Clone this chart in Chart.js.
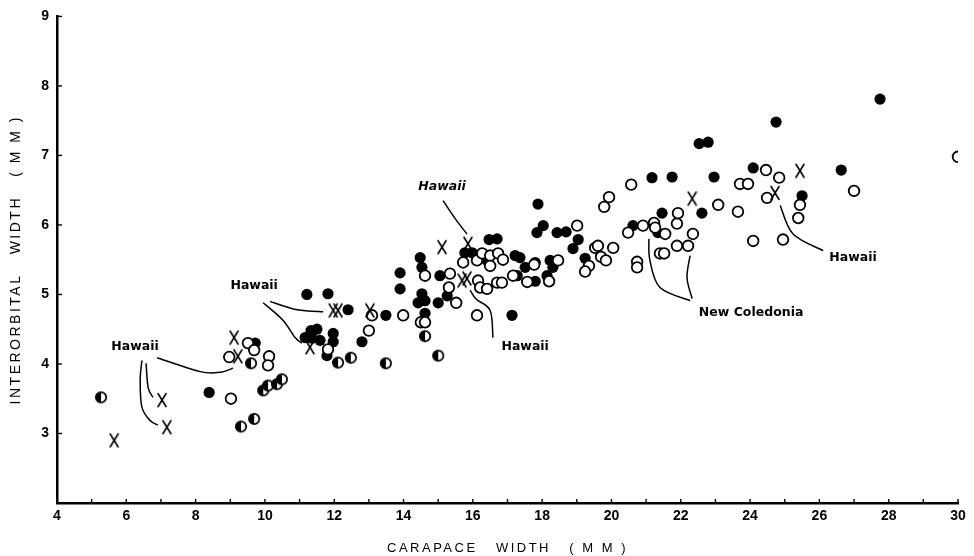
<!DOCTYPE html>
<html>
<head>
<meta charset="utf-8">
<title>Interorbital width vs carapace width</title>
<script src="https://cdn.jsdelivr.net/npm/chart.js@4.4.1/dist/chart.umd.min.js"></script>
<style>
html,body{margin:0;padding:0;background:#fff;}
#box{position:relative;width:974px;height:556px;}
</style>
</head>
<body>
<div id="box"><canvas id="chart" width="974" height="556"></canvas></div>
<script>
// ---- tick labels ----
const xTickValues = [4, 6, 8, 10, 12, 14, 16, 18, 20, 22, 24, 26, 28, 30];
const yTickValues = [2, 3, 4, 5, 6, 7, 8, 9];

// ---- solid (filled) circles ----
const solidX = [8.39, 9.72, 11.21, 11.82, 12.40, 12.80, 11.79, 11.33, 11.50, 11.16, 11.59, 11.97, 11.97, 11.36,
  13.49, 13.90, 13.90, 14.48, 14.53, 14.53, 14.62, 14.42, 14.62, 15.05, 15.26, 15.00, 15.77, 15.98, 16.47, 16.70,
  16.41, 17.13, 17.22, 17.36, 17.51, 17.28, 17.80, 18.14, 18.23, 18.31, 17.80, 17.85, 17.88, 18.03, 18.43, 18.69,
  19.04, 18.89, 19.24, 21.17, 21.75, 22.96, 22.53, 22.79, 24.75, 24.09, 26.63, 27.75, 20.62, 21.46, 21.34, 22.61, 25.50];
const solidY = [3.59, 4.30, 5.00, 5.01, 4.78, 4.32, 4.12, 4.48, 4.50, 4.38, 4.34, 4.44, 4.32, 4.37,
  4.70, 5.08, 5.31, 5.53, 5.39, 5.01, 4.91, 4.88, 4.73, 5.27, 4.98, 4.88, 5.60, 5.60, 5.79, 5.80,
  5.49, 4.70, 5.56, 5.53, 5.39, 5.27, 5.19, 5.27, 5.49, 5.39, 5.46, 5.89, 6.30, 5.99, 5.89, 5.90,
  5.79, 5.66, 5.52, 6.68, 6.69, 6.69, 7.17, 7.19, 7.48, 6.82, 6.79, 7.81, 5.99, 6.17, 5.89, 6.17, 6.42];

// ---- open circles ----
const openX = [9.02, 8.97, 9.51, 9.69, 10.12, 10.09, 13.09, 13.99, 13.00, 11.82,
  14.62, 14.50, 14.62, 15.34, 15.31, 15.52, 16.12, 15.72, 16.12, 16.27, 16.50, 16.73, 16.50, 16.87,
  16.15, 16.21, 16.41, 16.70, 16.84, 17.77, 17.57, 17.16, 18.20, 18.46,
  19.01, 19.53, 19.61, 20.05, 19.70, 19.84, 19.35, 19.24, 19.93, 19.79, 20.57, 20.48, 20.91, 21.23, 21.26, 21.55,
  21.89, 21.92, 22.35, 21.89, 22.21, 20.74, 20.74, 21.40, 21.52,
  23.08, 23.65, 24.09, 24.95, 23.71, 23.94, 24.46, 24.84, 24.49, 25.44, 25.39, 27.00, 30.00];
const openY = [3.50, 4.10, 4.30, 4.20, 4.11, 3.98, 4.70, 4.70, 4.48, 4.21,
  5.27, 4.60, 4.60, 5.30, 5.10, 4.88, 4.70, 5.46, 5.49, 5.59, 5.56, 5.59, 5.41, 5.50,
  5.20, 5.10, 5.08, 5.17, 5.17, 5.43, 5.18, 5.27, 5.19, 5.49,
  5.99, 5.67, 5.70, 5.67, 5.54, 5.49, 5.41, 5.33, 6.40, 6.26, 6.58, 5.89, 5.99, 6.03, 5.96, 5.87,
  6.02, 6.17, 5.87, 5.70, 5.70, 5.47, 5.39, 5.59, 5.59,
  6.29, 6.19, 5.77, 5.79, 6.59, 6.59, 6.79, 6.68, 6.39, 6.29, 6.10, 6.49, 6.98];

// ---- half-filled circles ----
const halfX = [5.27, 9.31, 9.69, 9.60, 9.95, 10.09, 10.35, 10.49, 12.48, 12.11, 13.49, 14.62, 15.00];
const halfY = [3.52, 3.10, 3.21, 4.01, 3.62, 3.69, 3.71, 3.78, 4.09, 4.02, 4.01, 4.40, 4.12];

// ---- crosses (X) ----
const crossX = [5.65, 7.03, 7.17, 9.11, 9.22, 11.30, 11.97, 12.11, 13.03, 15.11, 15.86, 15.69, 15.83, 22.33, 24.72, 25.44];
const crossY = [2.90, 3.48, 3.09, 4.38, 4.11, 4.24, 4.77, 4.77, 4.77, 5.68, 5.73, 5.20, 5.23, 6.38, 6.46, 6.78];

// ---- annotation texts (placed in data units) ----
const noteTexts = ['Hawaii', 'Hawaii', 'Hawaii', 'Hawaii', 'New Coledonia', 'Hawaii'];
const noteX = [6.25, 9.69, 15.11, 17.51, 24.03, 26.97];
const noteY = [4.25, 5.13, 6.55, 4.25, 4.74, 5.53];
const noteItalic = [false, false, true, false, false, false];
const leaderLines = [
  [[6.45, 4.05], [6.40, 3.76], [6.45, 3.38], [6.68, 3.19], [6.91, 3.12]],
  [[6.57, 4.01], [6.63, 3.66], [6.77, 3.52]],
  [[6.89, 4.09], [8.13, 3.89], [8.70, 3.88], [9.08, 3.94]],
  [[10.15, 4.90], [10.93, 4.78], [11.68, 4.75]],
  [[9.95, 4.88], [10.52, 4.63], [10.87, 4.38], [11.07, 4.30]],
  [[15.14, 6.35], [15.49, 6.09], [15.83, 5.87]],
  [[15.92, 5.06], [16.10, 4.93], [16.50, 4.77], [16.58, 4.38]],
  [[21.08, 5.80], [21.11, 5.49], [21.40, 5.10], [22.27, 4.91]],
  [[22.27, 5.56], [22.18, 5.24], [22.33, 4.94]],
  [[24.87, 6.28], [25.24, 5.87], [26.11, 5.63]]
];

const toPoints = (xs, ys) => xs.map((v, i) => ({ x: v, y: ys[i] }));

// marker images
function halfMarker() {
  const c = document.createElement('canvas');
  c.width = 14; c.height = 14;
  const g = c.getContext('2d');
  g.beginPath(); g.arc(7, 7, 5.2, 0, Math.PI * 2); g.fillStyle = '#fff'; g.fill();
  g.beginPath(); g.moveTo(7, 7); g.arc(7, 7, 5.2, Math.PI / 2, Math.PI * 1.5); g.closePath(); g.fillStyle = '#000'; g.fill();
  g.beginPath(); g.arc(7, 7, 5.2, 0, Math.PI * 2); g.lineWidth = 1.8; g.strokeStyle = '#000'; g.stroke();
  return c;
}
function crossMarker() {
  const c = document.createElement('canvas');
  c.width = 12; c.height = 16;
  const g = c.getContext('2d');
  g.strokeStyle = '#000'; g.lineWidth = 1.6; g.lineCap = 'round';
  g.beginPath(); g.moveTo(2, 1.5); g.lineTo(10, 14.5); g.moveTo(10, 1.5); g.lineTo(2, 14.5); g.stroke();
  return c;
}

function smoothPath(ctx, pts) {
  ctx.beginPath();
  ctx.moveTo(pts[0][0], pts[0][1]);
  for (let i = 0; i < pts.length - 1; i++) {
    const p0 = pts[i - 1] || pts[i], p1 = pts[i], p2 = pts[i + 1], p3 = pts[i + 2] || p2;
    const c1x = p1[0] + (p2[0] - p0[0]) / 6, c1y = p1[1] + (p2[1] - p0[1]) / 6;
    const c2x = p2[0] - (p3[0] - p1[0]) / 6, c2y = p2[1] - (p3[1] - p1[1]) / 6;
    ctx.bezierCurveTo(c1x, c1y, c2x, c2y, p2[0], p2[1]);
  }
  ctx.stroke();
}

const decoPlugin = {
  id: 'deco',
  beforeDraw(chart) {
    // letter-spaced axis titles (drawn in the grid layer)
    chart.ctx.letterSpacing = '2.5px';
  },
  beforeDatasetsDraw(chart) {
    chart.ctx.letterSpacing = '0px';
  },
  afterDraw(chart) {
    const { ctx, chartArea: a } = chart;
    const xs = chart.scales.x, ys = chart.scales.y;
    ctx.save();
    ctx.letterSpacing = '0px';
    ctx.strokeStyle = '#000';
    ctx.lineWidth = 1.4;
    // inward minor ticks
    for (let v = Math.ceil(xs.min) + 1; v <= xs.max; v++) {
      const px = xs.getPixelForValue(v);
      ctx.beginPath(); ctx.moveTo(px, a.bottom); ctx.lineTo(px, a.bottom - 4); ctx.stroke();
    }
    for (let v = Math.ceil(ys.min) + 1; v <= ys.max; v++) {
      const py = ys.getPixelForValue(v);
      ctx.beginPath(); ctx.moveTo(a.left, py); ctx.lineTo(a.left + 5, py); ctx.stroke();
    }
    // leader lines
    ctx.lineWidth = 1.5;
    leaderLines.forEach(line => {
      smoothPath(ctx, line.map(p => [xs.getPixelForValue(p[0]), ys.getPixelForValue(p[1])]));
    });
    // labels
    ctx.fillStyle = '#000';
    ctx.textAlign = 'center';
    ctx.textBaseline = 'middle';
    noteTexts.forEach((t, i) => {
      ctx.font = (noteItalic[i] ? 'italic ' : '') + 'bold 12.5px "DejaVu Sans", sans-serif';
      ctx.fillText(t, xs.getPixelForValue(noteX[i]), ys.getPixelForValue(noteY[i]));
    });
    ctx.restore();
  }
};

const tickFont = { family: '"Liberation Sans", Arial, sans-serif', size: 14, weight: 'bold' };

new Chart(document.getElementById('chart'), {
  type: 'scatter',
  data: {
    datasets: [
      { label: 'Hawaii (X)', data: toPoints(crossX, crossY), pointStyle: crossMarker(), pointRadius: 7, order: 0 },
      { label: 'Half', data: toPoints(halfX, halfY), pointStyle: halfMarker(), pointRadius: 6, order: 1 },
      { label: 'Open', data: toPoints(openX, openY), pointStyle: 'circle', pointRadius: 5.3, borderWidth: 1.8,
        borderColor: '#000', backgroundColor: '#fff', order: 2 },
      { label: 'Solid', data: toPoints(solidX, solidY), pointStyle: 'circle', pointRadius: 5.6, borderWidth: 0,
        borderColor: '#000', backgroundColor: '#000', order: 3 }
    ]
  },
  options: {
    responsive: false,
    animation: false,
    devicePixelRatio: 1,
    layout: { padding: { top: 15, right: 16, left: 0, bottom: 0 } },
    plugins: { legend: { display: false }, tooltip: { enabled: false } },
    elements: { point: { hoverRadius: 6 } },
    scales: {
      x: {
        type: 'linear', position: 'bottom', min: 4, max: 30,
        afterBuildTicks: s => { s.ticks = xTickValues.map(v => ({ value: v })); },
        afterFit: s => { s.height = 53; },
        grid: { display: false, drawTicks: false },
        border: { display: true, color: '#000', width: 2.5 },
        ticks: { z: 1, color: '#000', font: tickFont, padding: 5, autoSkip: false, maxRotation: 0 },
        title: { display: true, text: 'CARAPACE   WIDTH   ( M M )', color: '#000',
          font: { family: '"Liberation Sans", Arial, sans-serif', size: 13 }, padding: { top: 0, bottom: 0 } }
      },
      y: {
        type: 'linear', position: 'left', min: 2, max: 9,
        afterBuildTicks: s => { s.ticks = yTickValues.map(v => ({ value: v })); },
        afterFit: s => { s.width = 57; },
        grid: { display: false, drawTicks: false },
        border: { display: true, color: '#000', width: 2.5 },
        ticks: { z: 1, color: '#000', font: tickFont, padding: 8, callback: v => (v === 2 ? '' : v) },
        title: { display: true, text: 'INTERORBITAL   WIDTH   ( M M )', color: '#000',
          font: { family: '"Liberation Sans", Arial, sans-serif', size: 14 }, padding: { top: 8, bottom: 0 } }
      }
    }
  },
  plugins: [decoPlugin]
});
</script>
</body>
</html>
